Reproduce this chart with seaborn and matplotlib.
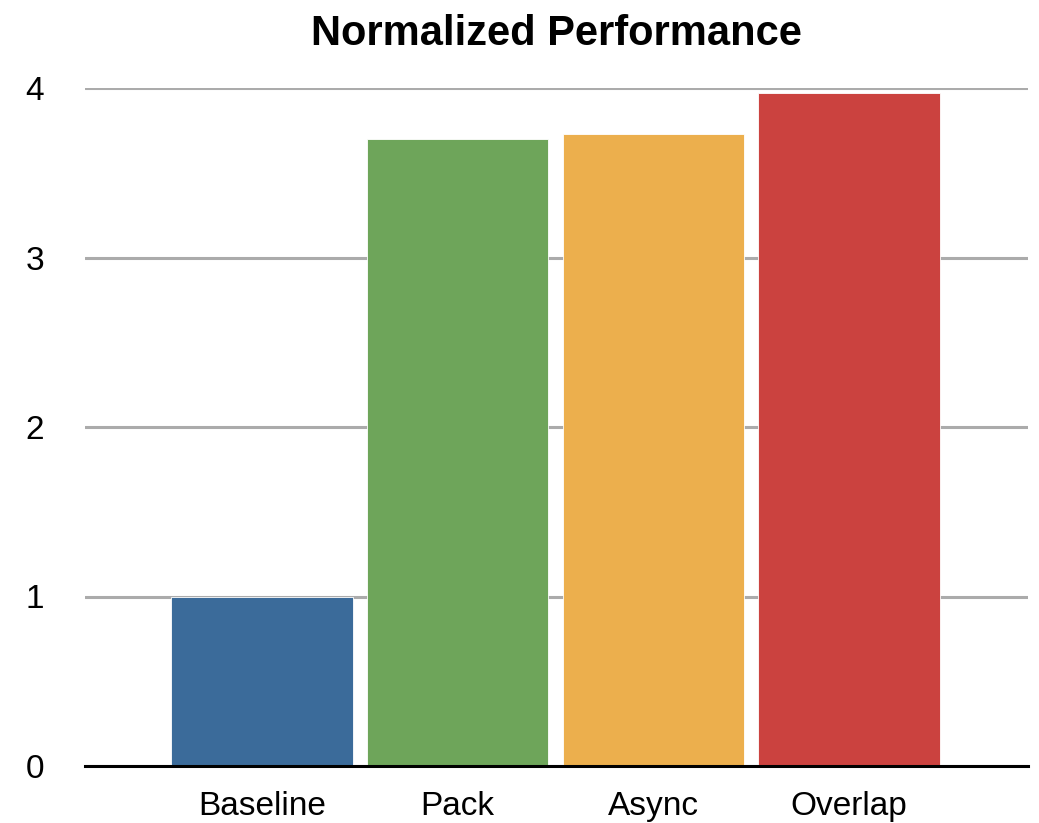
import matplotlib
matplotlib.use("Agg")
import matplotlib.pyplot as plt
import seaborn as sns
import pandas as pd

# Normalized performance of each variant relative to the baseline
categories = ["Baseline", "Pack", "Async", "Overlap"]
values = [1.0, 3.70, 3.73, 3.97]
colors = ["#3B6B9A", "#6EA55A", "#ECAF4D", "#CB423F"]
yticks = [0, 1, 2, 3, 4]

sns.set_theme(style="white")
plt.rcParams["font.family"] = ["Liberation Sans", "DejaVu Sans"]

df = pd.DataFrame({"variant": categories, "perf": values})

fig = plt.figure(figsize=(10.39, 8.23), dpi=100)
ax = fig.add_axes([85 / 1039, 1 - 766 / 823, (1028 - 85) / 1039, (766 - 88) / 823])

sns.barplot(data=df, x="variant", y="perf", hue="variant", palette=colors,
            order=categories, hue_order=categories, legend=False,
            saturation=1, width=0.926, ax=ax, zorder=3,
            edgecolor="white", linewidth=0.6)

ax.set_ylim(0, 4)
ax.set_xlim(-0.905, 3.915)
ax.set_yticks(yticks)
ax.set_yticklabels([str(t) for t in yticks])
ax.yaxis.grid(True, color="#ABABAB", linewidth=2.2, zorder=0)
ax.set_axisbelow(True)

for side in ["top", "right", "left"]:
    ax.spines[side].set_visible(False)
ax.spines["bottom"].set_color("black")
ax.spines["bottom"].set_linewidth(2.2)
ax.spines["bottom"].set_zorder(5)

ax.tick_params(axis="y", length=0, pad=43, labelsize=24, labelcolor="black")
ax.tick_params(axis="x", length=0, pad=18, labelsize=24, labelcolor="black")
for lbl in ax.get_yticklabels():
    lbl.set_horizontalalignment("left")

ax.set_xlabel("")
ax.set_ylabel("")
ax.set_title("Normalized Performance", fontsize=30, fontweight="bold", pad=31, color="black")

fig.savefig("out.png", dpi=100)
